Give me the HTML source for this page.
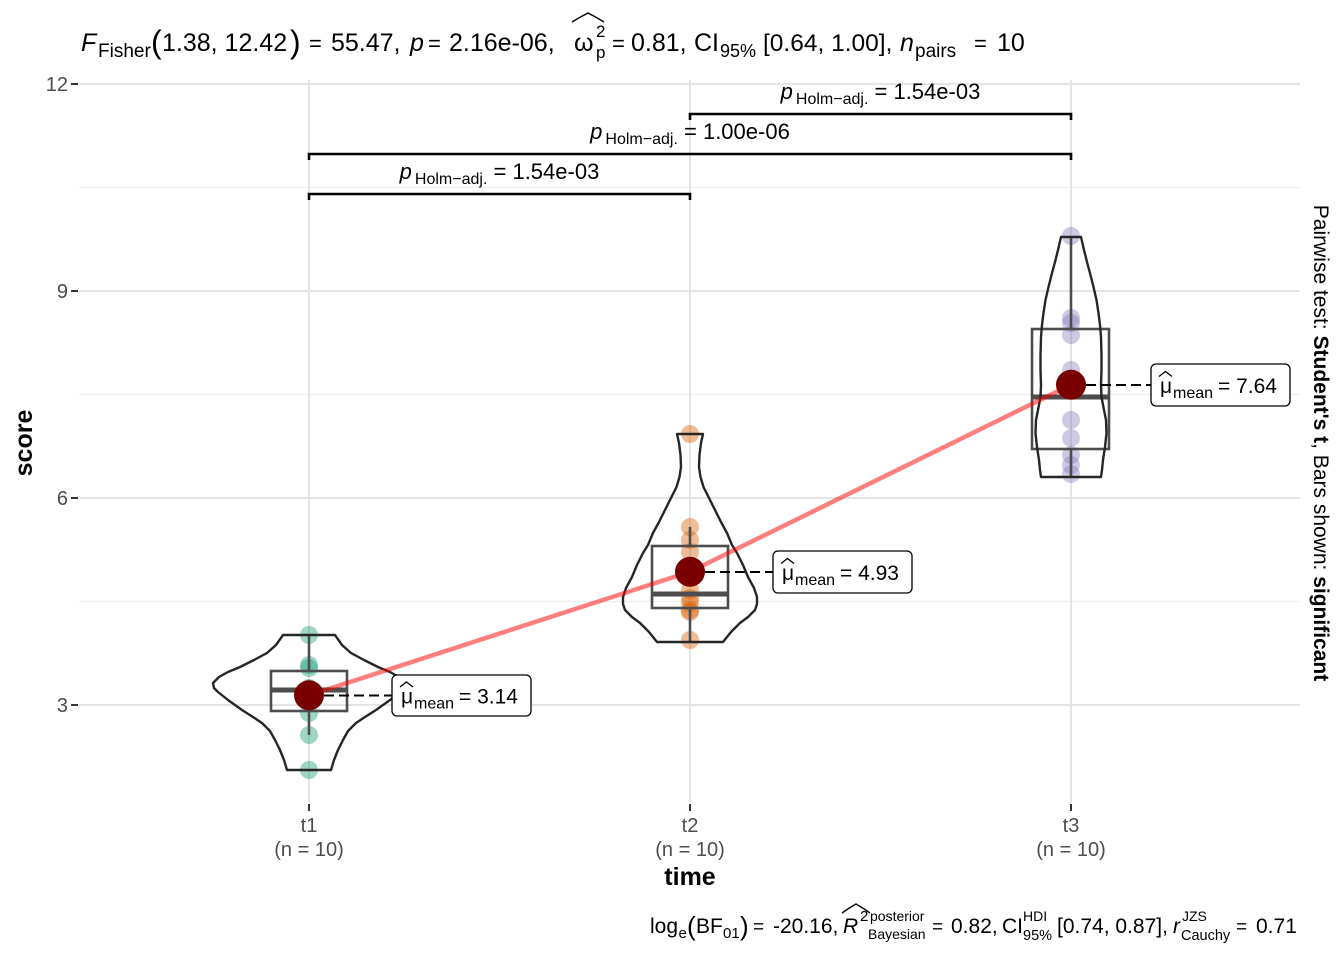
<!DOCTYPE html>
<html>
<head>
<meta charset="utf-8">
<style>
html,body{margin:0;padding:0;background:#fff;}
svg{display:block;}
text{font-family:"Liberation Sans",Arial,sans-serif;}
</style>
</head>
<body>
<svg width="1344" height="960" viewBox="0 0 1344 960" xmlns="http://www.w3.org/2000/svg">
<rect x="0" y="0" width="1344" height="960" fill="#ffffff"/>

<!-- minor grid -->
<g stroke="#eeeeee" stroke-width="1.2">
  <line x1="79" y1="187.5" x2="1300" y2="187.5"/>
  <line x1="79" y1="394.5" x2="1300" y2="394.5"/>
  <line x1="79" y1="601.5" x2="1300" y2="601.5"/>
</g>
<!-- major grid -->
<g stroke="#e4e4e4" stroke-width="2">
  <line x1="79" y1="84" x2="1300" y2="84"/>
  <line x1="79" y1="291" x2="1300" y2="291"/>
  <line x1="79" y1="498" x2="1300" y2="498"/>
  <line x1="79" y1="705" x2="1300" y2="705"/>
  <line x1="309" y1="80" x2="309" y2="803"/>
  <line x1="690" y1="80" x2="690" y2="803"/>
  <line x1="1071" y1="80" x2="1071" y2="803"/>
</g>

<!-- axis ticks -->
<g stroke="#333333" stroke-width="2">
  <line x1="71" y1="84" x2="78" y2="84"/>
  <line x1="71" y1="291" x2="78" y2="291"/>
  <line x1="71" y1="498" x2="78" y2="498"/>
  <line x1="71" y1="705" x2="78" y2="705"/>
  <line x1="309" y1="804" x2="309" y2="811"/>
  <line x1="690" y1="804" x2="690" y2="811"/>
  <line x1="1071" y1="804" x2="1071" y2="811"/>
</g>

<!-- y tick labels -->
<g font-size="20" fill="#4d4d4d" text-anchor="end">
  <text x="68" y="91">12</text>
  <text x="68" y="298">9</text>
  <text x="68" y="505">6</text>
  <text x="68" y="712">3</text>
</g>

<!-- points -->
<g fill="#1b9e77" fill-opacity="0.42">
  <circle cx="309" cy="635" r="9"/><circle cx="309" cy="665" r="9"/><circle cx="309" cy="668" r="9"/>
  <circle cx="309" cy="688" r="9"/><circle cx="309" cy="691" r="9"/><circle cx="309" cy="694" r="9"/>
  <circle cx="309" cy="697" r="9"/><circle cx="309" cy="713" r="9"/><circle cx="309" cy="735" r="9"/>
  <circle cx="309" cy="770" r="9"/>
</g>
<g fill="#d95f02" fill-opacity="0.42">
  <circle cx="690" cy="434" r="9"/><circle cx="690" cy="527" r="9"/><circle cx="690" cy="540" r="9"/>
  <circle cx="690" cy="552" r="9"/><circle cx="690" cy="590" r="9"/><circle cx="690" cy="598" r="9"/>
  <circle cx="690" cy="603" r="9"/><circle cx="690" cy="610" r="9"/><circle cx="690" cy="612" r="9"/>
  <circle cx="690" cy="640" r="9"/>
</g>
<g fill="#7570b3" fill-opacity="0.36">
  <circle cx="1071" cy="236" r="9"/><circle cx="1071" cy="318" r="9"/><circle cx="1071" cy="323" r="9"/>
  <circle cx="1071" cy="335" r="9"/><circle cx="1071" cy="370" r="9"/><circle cx="1071" cy="420" r="9"/>
  <circle cx="1071" cy="438" r="9"/><circle cx="1071" cy="455" r="9"/><circle cx="1071" cy="465" r="9"/>
  <circle cx="1071" cy="474" r="9"/>
</g>

<!-- boxplots -->
<g stroke="#4d4d4d" stroke-width="2.6" fill="none">
  <line x1="309" y1="635" x2="309" y2="671"/>
  <line x1="309" y1="711" x2="309" y2="735"/>
  <rect x="271" y="671" width="76" height="40"/>
  <line x1="271" y1="690" x2="347" y2="690" stroke-width="5"/>

  <line x1="690" y1="527" x2="690" y2="546"/>
  <line x1="690" y1="608" x2="690" y2="641"/>
  <rect x="652" y="546" width="76" height="62"/>
  <line x1="652" y1="594" x2="728" y2="594" stroke-width="5"/>

  <line x1="1071" y1="237" x2="1071" y2="329"/>
  <line x1="1071" y1="449" x2="1071" y2="477"/>
  <rect x="1032" y="329" width="77" height="120"/>
  <line x1="1032" y1="397" x2="1109" y2="397" stroke-width="5"/>
</g>

<!-- violins -->
<g stroke="#262626" stroke-width="2.4" fill="none" stroke-linejoin="round">
  <path d="M283,635 L335,635 L342,645 L351,653 L364,660 L378,667 L390,672 L399,677 L405,683 L404,688 L400,692 L390,700 L376,710 L365,717 L356,723 L348,731 L343,740 L338,750 L334,760 L331,770 L287,770 L284,760 L280,750 L275,740 L270,731 L262,723 L253,717 L242,710 L228,700 L218,692 L214,688 L213,683 L219,677 L228,672 L240,667 L254,660 L267,653 L276,645 Z"/>
  <path d="M677,434 L703,434 L701,443 L699.5,455 L699,467 L700.5,477 L703.5,487 L709,498 L715,510 L721,522 L727,533 L732,545 L737,553 L743,565 L748,577 L754,588 L757,597 L757,604 L755,610 L748,617 L740,623 L731,632 L723,642 L657,642 L649,632 L640,623 L632,617 L625,610 L623,604 L623,597 L626,588 L632,577 L637,565 L643,553 L648,545 L653,533 L659,522 L665,510 L671,498 L676.5,487 L679.5,477 L681,467 L680.5,455 L679,443 Z"/>
  <path d="M1061,237 L1081,237 L1084,250 L1087,262 L1090.5,275 L1093.5,287 L1096.5,300 L1098.5,313 L1100,325 L1101,337 L1101.5,355 L1101.5,370 L1101,385 L1101.5,397 L1104,410 L1106,420 L1106.5,433 L1105,447 L1103,460 L1102,470 L1101,477 L1041,477 L1040,470 L1039,460 L1037,447 L1035.5,433 L1036,420 L1038,410 L1040.5,397 L1041,385 L1040.5,370 L1040.5,355 L1041,337 L1042,325 L1043.5,313 L1045.5,300 L1048.5,287 L1051.5,275 L1055,262 L1058,250 Z"/>
</g>

<!-- mean path -->
<polyline points="309,695.3 690,571.8 1071,384.8" fill="none" stroke="#ff0000" stroke-opacity="0.5" stroke-width="4.5"/>

<!-- dashed connectors -->
<g stroke="#000" stroke-width="2" stroke-dasharray="10 5">
  <line x1="309" y1="695.5" x2="392" y2="695.5"/>
  <line x1="690" y1="572" x2="773" y2="572"/>
  <line x1="1071" y1="385" x2="1151" y2="385"/>
</g>

<!-- mean points -->
<g fill="#7a0000">
  <circle cx="309" cy="695.3" r="15"/>
  <circle cx="690" cy="571.8" r="15"/>
  <circle cx="1071" cy="384.8" r="15"/>
</g>

<!-- mean labels -->
<g>
  <rect x="392" y="675" width="139" height="41" rx="5" fill="#fff" stroke="#000" stroke-width="1.3"/>
  <path d="M400,687 L406.5,682 L413,687" fill="none" stroke="#000" stroke-width="1.3"/>
  <text x="401" y="703.5" font-size="21">μ</text>
  <text x="414" y="708.5" font-size="16">mean</text>
  <text x="459" y="703.5" font-size="21">= 3.14</text>

  <rect x="773" y="551" width="139" height="42" rx="5" fill="#fff" stroke="#000" stroke-width="1.3"/>
  <path d="M781,563.5 L787.5,558.5 L794,563.5" fill="none" stroke="#000" stroke-width="1.3"/>
  <text x="782" y="580" font-size="21">μ</text>
  <text x="795" y="585" font-size="16">mean</text>
  <text x="840" y="580" font-size="21">= 4.93</text>

  <rect x="1151" y="364" width="139" height="42" rx="5" fill="#fff" stroke="#000" stroke-width="1.3"/>
  <path d="M1159,376.5 L1165.5,371.5 L1172,376.5" fill="none" stroke="#000" stroke-width="1.3"/>
  <text x="1160" y="393" font-size="21">μ</text>
  <text x="1173" y="398" font-size="16">mean</text>
  <text x="1218" y="393" font-size="21">= 7.64</text>
</g>

<!-- significance brackets -->
<g stroke="#000" stroke-width="2.6" fill="none">
  <polyline points="309,200 309,194 690,194 690,200"/>
  <polyline points="309,160 309,154 1071,154 1071,160"/>
  <polyline points="690,120 690,114 1071,114 1071,120"/>
</g>
<g font-size="22" fill="#000" text-anchor="middle">
  <text x="499.5" y="179"><tspan font-style="italic">p</tspan><tspan font-size="16" dx="3" dy="5">Holm−adj.</tspan><tspan dy="-5"> = 1.54e-03</tspan></text>
  <text x="690" y="139"><tspan font-style="italic">p</tspan><tspan font-size="16" dx="3" dy="5">Holm−adj.</tspan><tspan dy="-5"> = 1.00e-06</tspan></text>
  <text x="880.5" y="99"><tspan font-style="italic">p</tspan><tspan font-size="16" dx="3" dy="5">Holm−adj.</tspan><tspan dy="-5"> = 1.54e-03</tspan></text>
</g>

<!-- x tick labels -->
<g font-size="20" fill="#4d4d4d" text-anchor="middle">
  <text x="309" y="832">t1</text>
  <text x="309" y="856">(n = 10)</text>
  <text x="690" y="832">t2</text>
  <text x="690" y="856">(n = 10)</text>
  <text x="1071" y="832">t3</text>
  <text x="1071" y="856">(n = 10)</text>
</g>

<!-- axis titles -->
<text x="690" y="885" font-size="25" font-weight="bold" text-anchor="middle" fill="#000">time</text>
<text transform="translate(32,443) rotate(-90)" font-size="25" font-weight="bold" text-anchor="middle" fill="#000">score</text>

<!-- right side label -->
<text transform="translate(1314,443) rotate(90)" font-size="21" text-anchor="middle" fill="#000">Pairwise test: <tspan font-weight="bold">Student's t</tspan>, Bars shown: <tspan font-weight="bold">significant</tspan></text>

<!-- title -->
<g fill="#000" font-size="25">
  <text x="81" y="51" font-style="italic">F</text>
  <text x="98" y="57" font-size="19">Fisher</text>
  <text x="151" y="53" font-size="32">(</text>
  <text x="162" y="51">1.38, 12.42</text>
  <text x="290" y="53" font-size="32">)</text>
  <text x="309" y="51" font-size="22">=</text>
  <text x="331" y="51">55.47,</text>
  <text x="410" y="51" font-style="italic">p</text>
  <text x="428" y="51" font-size="22">=</text>
  <text x="449" y="51">2.16e-06,</text>
  <text x="574" y="51">ω</text>
  <path d="M572,22 Q580,17 588,13 Q596,17 604,22" fill="none" stroke="#000" stroke-width="1.5"/>
  <text x="596" y="37" font-size="17">2</text>
  <text x="596" y="58" font-size="17">p</text>
  <text x="612" y="51" font-size="22">=</text>
  <text x="631" y="51">0.81,</text>
  <text x="694" y="51">CI</text>
  <text x="720" y="57" font-size="18">95%</text>
  <text x="763" y="51" font-size="24.5">[0.64, 1.00],</text>
  <text x="900" y="51" font-style="italic">n</text>
  <text x="915" y="57" font-size="19">pairs</text>
  <text x="974" y="51" font-size="22">=</text>
  <text x="997" y="51">10</text>
</g>

<!-- caption -->
<g fill="#000" font-size="21">
  <text x="650" y="933">log</text>
  <text x="678.5" y="938" font-size="15">e</text>
  <text x="687" y="935" font-size="26">(</text>
  <text x="696" y="933">BF</text>
  <text x="723" y="938" font-size="15">01</text>
  <text x="740" y="935" font-size="26">)</text>
  <text x="753" y="933" font-size="19">=</text>
  <text x="773" y="933">-20.16,</text>
  <text x="843" y="933" font-style="italic">R</text>
  <path d="M842,913 Q849,908 856,904 Q863,908 870,913" fill="none" stroke="#000" stroke-width="1.4"/>
  <text x="860" y="921" font-size="15">2</text>
  <text x="870" y="921" font-size="14">posterior</text>
  <text x="868" y="939" font-size="14">Bayesian</text>
  <text x="932" y="933" font-size="19">=</text>
  <text x="951" y="933">0.82,</text>
  <text x="1002" y="933">CI</text>
  <text x="1023" y="921" font-size="14">HDI</text>
  <text x="1023" y="940" font-size="14.5">95%</text>
  <text x="1057" y="933">[0.74, 0.87],</text>
  <text x="1173" y="933" font-style="italic">r</text>
  <text x="1182" y="921" font-size="14">JZS</text>
  <text x="1181" y="940" font-size="14.5">Cauchy</text>
  <text x="1236" y="933" font-size="19">=</text>
  <text x="1256" y="933">0.71</text>
</g>
</svg>
</body>
</html>
